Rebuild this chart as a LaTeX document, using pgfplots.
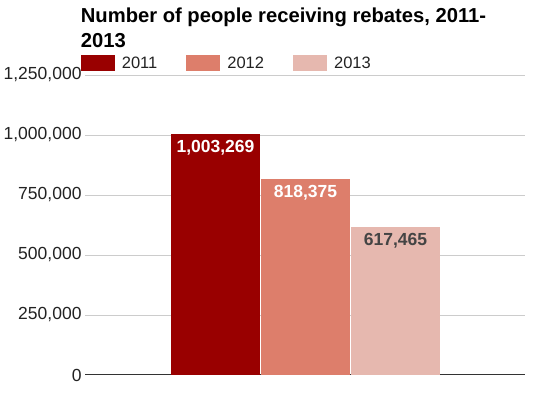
\documentclass[border=0pt]{standalone}
\usepackage{fontspec}
\setmainfont{Liberation Sans}
\usepackage{pgfplots}
\pgfplotsset{compat=1.18}
\definecolor{ca}{HTML}{990000}
\definecolor{cb}{HTML}{DD7E6B}
\definecolor{cc}{HTML}{E6B8AF}
\definecolor{cgrid}{HTML}{CCCCCC}
\definecolor{czero}{HTML}{333333}
\definecolor{ctext}{HTML}{222222}
\definecolor{clab}{HTML}{444444}
\begin{document}
\begin{tikzpicture}[x=1pt,y=1pt]
\useasboundingbox (0,0) rectangle (552,398);
\begin{axis}[
  at={(85pt,23pt)}, anchor=south west,
  scale only axis, width=440pt, height=300pt,
  xmin=-1.45, xmax=3.439, ymin=0, ymax=1250000,
  ybar, bar width=0.99, bar shift=0pt,
  axis line style={draw=none},
  xtick=\empty,
  ytick={250000,500000,750000,1000000,1250000},
  extra y ticks={0},
  extra y tick style={grid style={color=czero, line width=1pt}},
  ymajorgrids, grid style={color=cgrid, line width=0.9pt},
  major tick length=0pt,
  scaled y ticks=false,
  yticklabel={\pgfmathprintnumber[fixed,precision=0,1000 sep={,},assume math mode=true]{\tick}},
  yticklabel style={font=\fontsize{17.5}{20}\selectfont, text=ctext, inner sep=0pt, xshift=-3.3pt},
  title={Number of people receiving rebates, 2011-\\2013},
  title style={at={(0,1)}, anchor=south west, align=left, inner sep=0pt,
    xshift=-4.3pt, yshift=21pt, font=\bfseries\fontsize{20.2}{25.3}\selectfont, text=black},
  legend style={at={(0,1)}, anchor=west, xshift=-4.3pt, yshift=12pt, draw=none, fill=none,
    inner sep=0pt, font=\fontsize{16.5}{19}\selectfont, text=ctext,
    /tikz/every odd column/.append style={column sep=5pt},
    /tikz/every even column/.append style={column sep=27pt}},
  legend columns=3,
  legend image code/.code={\fill[#1] (0pt,-8pt) rectangle (34pt,8pt);},
  nodes near coords={\pgfmathprintnumber[fixed,precision=0,1000 sep={,},assume math mode=true]{\pgfplotspointmeta}},
  every node near coord/.append style={anchor=north, yshift=-6pt, inner sep=0pt,
    font=\bfseries\fontsize{17.5}{20}\selectfont},
]
\addplot[fill=ca, draw=none, every node near coord/.append style={text=white}] coordinates {(0,1003269)};
\addplot[fill=cb, draw=none, every node near coord/.append style={text=white}] coordinates {(1,818375)};
\addplot[fill=cc, draw=none, every node near coord/.append style={text=clab}] coordinates {(2,617465)};
\legend{2011,2012,2013}
\end{axis}
\end{tikzpicture}
\end{document}
